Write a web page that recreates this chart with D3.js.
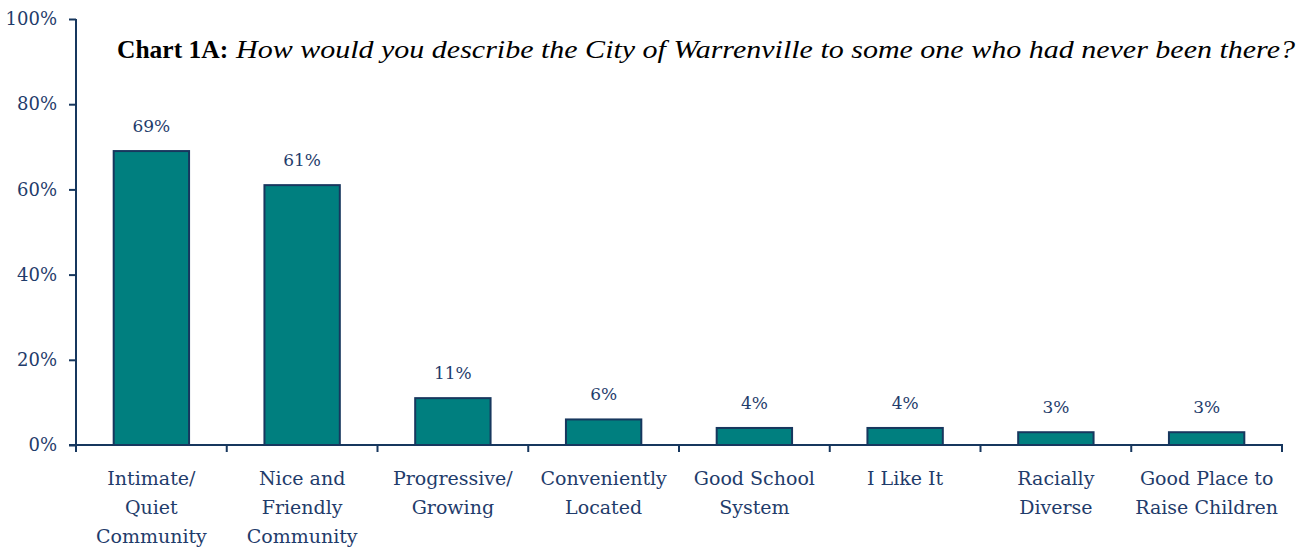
<!DOCTYPE html>
<html><head><meta charset="utf-8">
<script src="https://cdn.jsdelivr.net/npm/d3@7"></script>
<style>body{margin:0;background:#fff}</style>
</head><body><svg id="c" width="1308" height="550"></svg>
<script>
const categories = [["Intimate/","Quiet","Community"],["Nice and","Friendly","Community"],["Progressive/","Growing"],["Conveniently","Located"],["Good School","System"],["I Like It"],["Racially","Diverse"],["Good Place to","Raise Children"]];
const values = [69, 61, 11, 6, 4, 4, 3, 3];
const yTicks = [0, 20, 40, 60, 80, 100];

const svg = d3.select("#c");
const navy = "#17375E", txt = "#1F3C6B";
const font = "'DejaVu Serif', serif";
const tfont = "'Liberation Serif', serif";
const x = d3.scaleBand().domain(d3.range(categories.length)).range([76, 1282]).paddingInner(0.5).paddingOuter(0.25);
const y = d3.scaleLinear().domain([0, 100]).range([445, 19]);

// y axis
const ya = svg.append("g").attr("transform", "translate(76,0)")
  .call(d3.axisLeft(y).tickValues(yTicks).tickSize(7).tickPadding(12).tickFormat(d => d + "%"));
ya.select(".domain").attr("stroke", navy).attr("stroke-width", 2).attr("d", "M0,445V19");
ya.selectAll(".tick line").attr("stroke", navy).attr("stroke-width", 2);
ya.selectAll(".tick text").attr("fill", txt).attr("font-family", font).attr("font-size", 18);

// x axis line
svg.append("line").attr("x1", 69).attr("x2", 1283).attr("y1", 445).attr("y2", 445).attr("stroke", navy).attr("stroke-width", 2);
const bounds = d3.range(categories.length + 1).map(i => 76 + i * x.step());
svg.selectAll(".xt").data(bounds).join("line").attr("x1", d => d).attr("x2", d => d).attr("y1", 445).attr("y2", 452).attr("stroke", navy).attr("stroke-width", 2);

// bars
svg.selectAll(".bar").data(values).join("rect")
  .attr("x", (d, i) => x(i)).attr("width", x.bandwidth())
  .attr("y", d => y(d)).attr("height", d => y(0) - y(d))
  .attr("fill", "#007F7F").attr("stroke", navy).attr("stroke-width", 2);

svg.selectAll(".vl").data(values).join("text")
  .attr("x", (d, i) => x(i) + x.bandwidth() / 2).attr("y", d => y(d) - 19)
  .attr("text-anchor", "middle").attr("fill", txt).attr("font-family", font).attr("font-size", 17)
  .text(d => d + "%");

// category labels
categories.forEach((lines, i) => {
  const t = svg.append("text").attr("text-anchor", "middle").attr("fill", txt).attr("font-family", font).attr("font-size", 19);
  lines.forEach((l, j) => t.append("tspan").attr("x", x(i) + x.bandwidth() / 2).attr("y", 485 + j * 29).text(l));
});

// title
svg.append("text").attr("x", 117).attr("y", 58).attr("font-family", tfont).attr("font-size", 25.5)
  .attr("font-weight", "bold").attr("fill", "#000").text("Chart 1A:");
svg.append("text").attr("x", 236).attr("y", 58).attr("font-family", tfont).attr("font-size", 26)
  .attr("font-style", "italic").attr("fill", "#000")
  .attr("textLength", 1059).attr("lengthAdjust", "spacingAndGlyphs")
  .text("How would you describe the City of Warrenville to some one who had never been there?");
</script></body></html>
